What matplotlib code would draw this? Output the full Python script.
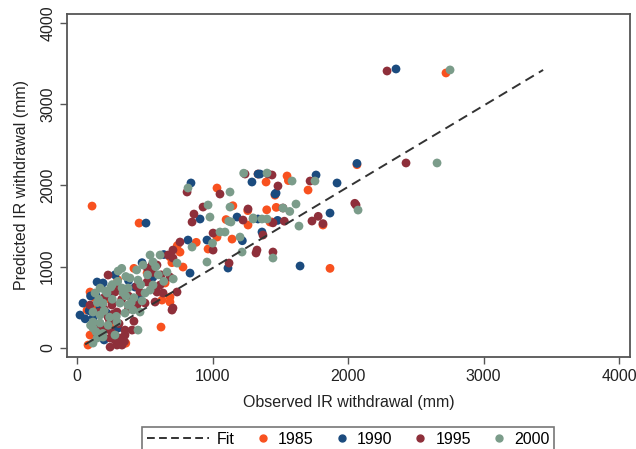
import matplotlib
matplotlib.use("Agg")
import matplotlib.pyplot as plt
from matplotlib.lines import Line2D
from matplotlib.legend_handler import HandlerLine2D

plt.rcParams['font.family'] = ['Liberation Sans', 'DejaVu Sans']

# ---- data (observed, predicted) in mm ----
obs_1985 = [2723, 2066, 1705, 1815, 1867, 1550, 1461, 1439, 1336, 1395, 1262, 1424, 1033, 1033,
            1144, 967, 111, 458, 620, 686, 686, 517, 96, 74, 266, 96, 81, 782, 627, 686, 1470,
            1260, 1150, 760, 560, 420, 330, 210, 150, 240, 360, 880, 1100, 1400, 1560,
            700, 740, 300, 190, 130, 650]
pred_1985 = [3383, 2255, 1943, 1513, 980, 2116, 1880, 1550, 2140, 2042, 1513, 1550, 1968, 1365,
             1340, 1218, 1746, 1537, 258, 627, 566, 922, 689, 467, 197, 160, 37, 996, 590, 1120, 1730,
             1690, 1750, 1180, 760, 980, 700, 600, 520, 280, 60, 1300, 1580, 1700, 2060,
             1050, 1260, 840, 220, 620, 800]

obs_1990 = [2354, 2066, 1764, 1919, 1867, 1646, 1461, 1350, 1291, 1336, 1469, 1365, 1181, 1336,
            959, 841, 908, 819, 509, 834, 1114, 148, 192, 428, 44, 22, 303, 100, 250, 170, 330,
            280, 120, 1480, 1220, 560, 460, 380, 220, 140, 60, 200, 90, 480, 640]
pred_1990 = [3432, 2270, 2128, 2030, 1660, 1009, 1894, 2140, 2042, 2140, 1906, 1427, 1611, 1587,
             1328, 2030, 1587, 1328, 1537, 922, 984, 812, 800, 750, 553, 406, 246, 640, 640, 500, 120,
             900, 380, 1570, 1320, 870, 620, 830, 430, 650, 360, 100, 460, 1050, 1150]

obs_1995 = [2288, 2428, 1720, 2059, 1734, 1815, 1439, 1483, 1520, 1446, 1240, 1410, 1262, 1225,
            1372, 1328, 1055, 812, 930, 863, 849, 1004, 760, 708, 1004, 1122, 1321, 672, 708, 554,
            590, 686, 229, 517, 613, 280, 465, 590, 635, 96, 258, 443, 502, 576, 229, 295, 185,
            244, 354, 406, 244, 280, 317, 354, 244, 295, 332, 708, 701, 738, 1446, 1780, 2050,
            1530, 160, 200, 330, 380, 420, 300, 240, 130, 270, 350, 560,
            200, 260, 310, 170, 380, 440, 520, 620, 330, 280, 150]
pred_1995 = [3407, 2276, 2054, 1759, 1562, 1530, 2128, 1993, 1722, 1181, 2140, 2140, 1710, 1574,
             1390, 1205, 1894, 1919, 1734, 1648, 1550, 1414, 1304, 1205, 1205, 1045, 1169, 1144, 1107, 1021,
             1021, 873, 898, 812, 775, 689, 689, 689, 677, 529, 529, 529, 553, 566, 381, 443, 221,
             221, 221, 221, 123, 98, 123, 160, 12, 37, 37, 492, 467, 689, 1540, 1620, 1780,
             1560, 440, 620, 600, 480, 330, 760, 340, 280, 420, 80, 930,
             480, 560, 300, 300, 640, 760, 980, 900, 60, 160, 160]

obs_2000 = [2753, 2657, 1756, 2074, 1587, 1616, 1638, 1446, 1402, 1129, 1129, 1136, 1299, 1365,
            1402, 1055, 1092, 1203, 819, 967, 981, 849, 959, 1218, 539, 613, 738, 487, 664, 303,
            391, 450, 561, 170, 133, 221, 332, 376, 502, 539, 192, 317, 376, 118, 170, 354, 413,
            465, 118, 170, 118, 295, 450, 148, 192, 118, 1520, 1120, 1230, 1570, 260, 200, 150,
            230, 290, 420, 360, 480, 250, 140, 330, 600, 710, 1000, 1300,
            160, 210, 260, 300, 340, 400, 440, 520, 580, 640, 100, 240, 190, 280, 360, 470, 560]
pred_2000 = [3420, 2276, 2054, 1697, 2054, 1771, 1500, 1107, 2152, 1919, 1734, 1550, 1587, 1587,
             1587, 1427, 1427, 1365, 1968, 1759, 1611, 1242, 1058, 1181, 1144, 1144, 1045, 1021, 935, 947,
             861, 836, 775, 738, 677, 677, 738, 738, 677, 713, 553, 553, 529, 443, 406, 430, 467,
             443, 320, 308, 246, 320, 221, 123, 135, 61, 1722, 1560, 2150, 1680, 600, 460, 560,
             280, 390, 620, 880, 580, 750, 200, 980, 900, 850, 1290, 1600,
             600, 700, 780, 820, 680, 560, 960, 900, 1000, 820, 280, 380, 180, 160, 640, 780, 1060]

fit_x = [60, 3440]
fit_y = [45, 3420]

years = ['1985', '1990', '1995', '2000']
colors = ['#f8511f', '#1b4b7e', '#8e2f3a', '#7b9c8a']
series = [(obs_1985, pred_1985), (obs_1990, pred_1990), (obs_1995, pred_1995), (obs_2000, pred_2000)]

fig = plt.figure(figsize=(6.36, 4.49), dpi=100)
ax = fig.add_axes([67/636, (449-357)/449, (630-67)/636, (357-14)/449])

ax.plot(fit_x, fit_y, color='#333333', lw=1.4, ls=(0, (5, 3)), zorder=3)
for (xs, ys), c in zip(series, colors):
    ax.scatter(xs, ys, s=40, color=c, edgecolors='none', zorder=2)

ax.set_xlim(-74, 4081)
ax.set_ylim(-110, 4108)
ax.set_xticks([0, 1000, 2000, 3000, 4000])
ax.set_yticks([0, 1000, 2000, 3000, 4000])
ax.tick_params(axis='both', direction='out', length=5, width=1, color='#555555',
               labelsize=11.5, labelcolor='#222222')
for lab in ax.get_yticklabels():
    lab.set_rotation(90)
    lab.set_va('center')
for sp in ax.spines.values():
    sp.set_color('#555555')
    sp.set_linewidth(1.3)

ax.set_xlabel('Observed IR withdrawal (mm)', fontsize=11.5, color='#222222', labelpad=8)
ax.set_ylabel('Predicted IR withdrawal (mm)', fontsize=11.5, color='#222222', labelpad=8)


class WideLineHandler(HandlerLine2D):
    def legend_artist(self, legend, orig_handle, fontsize, handlebox):
        handlebox.width = 45
        return super().legend_artist(legend, orig_handle, fontsize, handlebox)


fit_handle = Line2D([0], [0], color='#333333', lw=1.4, ls=(0, (4, 2.2)))
handles = [fit_handle]
labels = ['Fit']
for y, c in zip(years, colors):
    handles.append(Line2D([0], [0], marker='o', ls='none', color=c, markersize=5))
    labels.append(y)
leg = fig.legend(handles, labels, loc='upper center', bbox_to_anchor=(348/636, 1 - 419/449),
                 ncol=5, fontsize=11.5, frameon=True, fancybox=False, handlelength=0.9,
                 columnspacing=1.3, handletextpad=0.5, borderpad=0.3,
                 handler_map={fit_handle: WideLineHandler()})
leg.get_frame().set_edgecolor('#555555')
leg.get_frame().set_linewidth(1.2)

fig.savefig('out.png', dpi=100)
